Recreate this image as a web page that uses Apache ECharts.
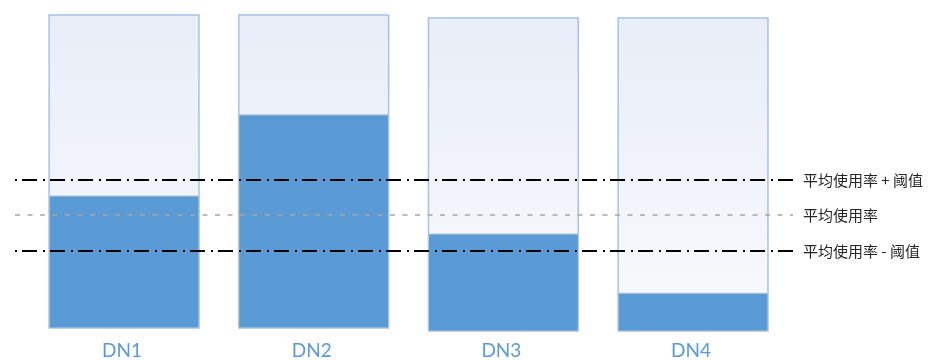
<!DOCTYPE html>
<html>
<head>
    <meta charset="utf-8">
    <title>DN 使用率</title>
    <style type="text/css">
        html, body { margin: 0; padding: 0; background: #fff; }
        #main { width: 931px; height: 360px; }
    </style>
</head>
<body>
    <div id="main"></div>
</body>
<script src="https://cdn.jsdelivr.net/npm/echarts@6/dist/echarts.min.js"></script>
<script type="text/javascript">
    // 节点及其使用率（容量按100%计）
    var categories = ['DN1', 'DN2', 'DN3', 'DN4'];
    var capacity = [100, 100, 100, 100];
    var usage = [42.2, 68.1, 31.0, 12.1];

    // 参考线：平均使用率及上下阈值
    var lineNames = ['平均使用率 + 阈值', '平均使用率', '平均使用率 - 阈值'];
    var lineValues = [47.3, 36.1, 24.6];

    var seriesData = categories.map(function (c, i) {
        return [i, capacity[i], usage[i]];
    });

    function renderItem(params, api) {
        var i = api.value(0);
        var top = api.coord([i, api.value(1)]);
        var base = api.coord([i, 0]);
        var lvl = api.coord([i, api.value(2)]);
        var w = api.size([1, 0])[0] * 0.79;
        var dy = i >= 2 ? 3 : 0;   // 后两个容器略微下移
        return {
            type: 'group',
            children: [{
                type: 'rect',
                shape: { x: base[0] - w / 2, y: top[1] + dy, width: w, height: base[1] - top[1] },
                style: {
                    fill: {
                        type: 'linear', x: 0, y: 0, x2: 0, y2: 1,
                        colorStops: [{ offset: 0, color: '#e8edf7' }, { offset: 1, color: '#f9fafd' }]
                    },
                    stroke: '#a3c4e6',
                    lineWidth: 1.5
                }
            }, {
                type: 'rect',
                shape: { x: base[0] - w / 2, y: lvl[1] + dy, width: w, height: base[1] - lvl[1] },
                style: {
                    fill: '#5b9bd5',
                    stroke: '#c3cbd6',
                    lineWidth: 1
                }
            }, {
                type: 'text',
                x: base[0] - 2,
                y: 351,
                style: {
                    text: categories[params.dataIndex],
                    fill: '#5b9bd5',
                    font: '19px Lato',
                    align: 'center',
                    verticalAlign: 'middle'
                }
            }]
        };
    }

    var dashDot = { type: [2, 5, 15, 6], color: '#000', width: 1.8 };
    var dashGray = { type: [5, 7.5], color: '#a6a6a6', width: 1.5 };

    var option = {
        animation: false,
        backgroundColor: '#ffffff',
        grid: { left: 15, right: 138, top: 15, bottom: 32 },
        xAxis: { type: 'value', min: -0.575, max: 3.527, show: false },
        yAxis: { type: 'value', min: 0, max: 100, show: false },
        series: [{
            type: 'custom',
            renderItem: renderItem,
            data: seriesData,
            silent: true,
            markLine: {
                silent: true,
                symbol: 'none',
                label: {
                    position: 'end',
                    distance: 10,
                    formatter: '{b}',
                    color: '#262626',
                    fontSize: 15,
                    fontFamily: 'Noto Sans CJK SC'
                },
                data: lineValues.map(function (v, k) {
                    return { name: lineNames[k], yAxis: v, lineStyle: k === 1 ? dashGray : dashDot };
                })
            }
        }]
    };

    var myChart = echarts.init(document.getElementById('main'));
    myChart.setOption(option);
</script>
</html>
